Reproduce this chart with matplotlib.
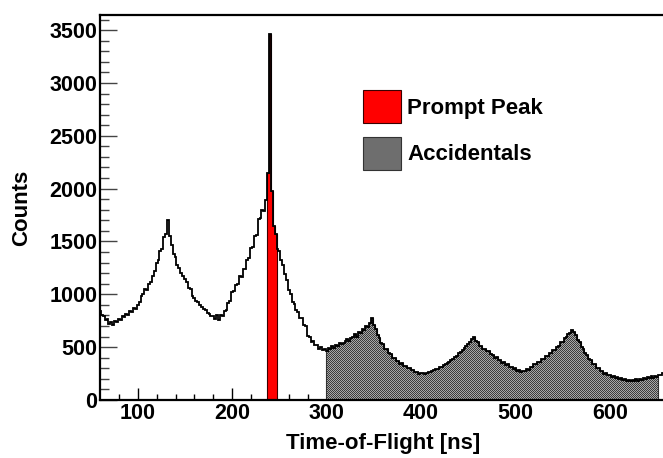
import numpy as np
import matplotlib
matplotlib.use("Agg")
import matplotlib.pyplot as plt
from matplotlib.patches import Patch
from matplotlib.transforms import IdentityTransform

# Time-of-flight spectrum, 2 ns bins (bin centres 60, 62, ..., 658 ns)
bin_width = 2.0
first_center = 60.0
counts = [
    845, 805, 798, 760, 762, 722, 738, 712, 748, 736,
    768, 758, 794, 782, 818, 806, 842, 828, 868, 858,
    898, 925, 988, 1002, 1052, 1040, 1098, 1112, 1175, 1218,
    1298, 1322, 1410, 1432, 1538, 1572, 1700, 1548, 1470, 1385,
    1352, 1278, 1252, 1205, 1178, 1142, 1115, 1062, 1048, 985,
    968, 936, 928, 898, 884, 862, 848, 822, 818, 798,
    792, 768, 808, 760, 802, 798, 846, 848, 916, 938,
    1022, 1028, 1092, 1096, 1172, 1160, 1242, 1240, 1322, 1340,
    1438, 1445, 1552, 1565, 1710, 1722, 1798, 1790, 1895, 2150,
    3466, 1980, 1650, 1575, 1432, 1412, 1325, 1282, 1188, 1140,
    1038, 1002, 928, 912, 848, 832, 778, 772, 712, 702,
    606, 598, 550, 554, 516, 521, 486, 500, 472, 478,
    464, 492, 482, 514, 492, 524, 510, 544, 530, 538,
    556, 574, 560, 590, 592, 620, 592, 640, 632, 670,
    662, 700, 692, 732, 772, 712, 668, 612, 588, 542,
    526, 486, 478, 440, 436, 402, 402, 372, 366, 342,
    346, 322, 326, 300, 306, 282, 286, 262, 268, 250,
    254, 252, 250, 256, 264, 266, 277, 282, 292, 296,
    308, 312, 332, 336, 352, 362, 376, 386, 406, 418,
    442, 452, 472, 488, 512, 528, 552, 578, 592, 562,
    546, 512, 512, 482, 486, 462, 462, 432, 426, 402,
    406, 376, 376, 352, 356, 332, 336, 312, 316, 292,
    300, 277, 286, 266, 276, 272, 291, 286, 316, 312,
    336, 336, 362, 362, 392, 392, 416, 416, 446, 446,
    476, 476, 506, 512, 546, 552, 588, 592, 622, 632,
    666, 642, 616, 572, 552, 502, 486, 442, 426, 386,
    376, 342, 336, 302, 300, 272, 270, 246, 251, 232,
    240, 220, 226, 207, 215, 197, 206, 187, 198, 182,
    193, 177, 188, 177, 195, 180, 200, 190, 206, 197,
    216, 204, 224, 212, 231, 222, 241, 232, 251, 242,
]

# Selection windows [ns]
prompt_window = (237, 247)
accidental_window = (299, 651)

x_range = (60, 660)
y_max = 3640

counts = np.asarray(counts, dtype=float)
edges = first_center - bin_width / 2 + bin_width * np.arange(len(counts) + 1)
centers = 0.5 * (edges[:-1] + edges[1:])

plt.rcParams["font.family"] = ["Liberation Sans", "DejaVu Sans"]
plt.rcParams["font.weight"] = "bold"

W, H = 663, 458
fig = plt.figure(figsize=(W / 100, H / 100), dpi=100)
left_px, right_px, top_px, bottom_px = 100, 666.6, 15.3, 400
ax = fig.add_axes([left_px / W, 1 - bottom_px / H,
                   (right_px - left_px) / W, (bottom_px - top_px) / H])
ax.set_xlim(*x_range)
ax.set_ylim(0, y_max)
ax.set_autoscale_on(False)


def window_slice(lo, hi):
    idx = np.where((centers > lo) & (centers < hi))[0]
    return counts[idx[0]:idx[-1] + 1], edges[idx[0]:idx[-1] + 2]


# Prompt peak region
v, e = window_slice(*prompt_window)
ax.stairs(v, e, fill=True, facecolor="#ff0000", edgecolor="none", zorder=2)
ax.stairs(v, e, baseline=0, color="#3a0000", lw=0.8, zorder=2.1)

# Accidental background region, filled with a fine checker pattern
v, e = window_slice(*accidental_window)
acc_patch = ax.stairs(v, e, fill=True, facecolor="#737373",
                      edgecolor="none", zorder=2)
yy, xx = np.mgrid[0:H, 0:W]
checker = np.where((xx + yy) % 2 == 0, 0.24, 0.66)
img = ax.imshow(checker, cmap="gray", vmin=0, vmax=1, interpolation="nearest",
                extent=(0, W, 0, H), transform=IdentityTransform(),
                aspect="auto", zorder=2.05)
img.set_clip_path(acc_patch)
ax.stairs(v, e, baseline=0, color="#333333", lw=0.8, zorder=2.1)

# Full spectrum outline
ax.stairs(counts, edges, baseline=None, color="black", lw=1.3, zorder=3)

ax.set_xlim(*x_range)
ax.set_ylim(0, y_max)

ax.set_xticks([100, 200, 300, 400, 500, 600])
ax.set_xticks(np.arange(80, 660, 20), minor=True)
ax.set_yticks(np.arange(0, 3501, 500))
ax.set_yticks(np.arange(0, 3601, 100), minor=True)

tick_fs = 15.5
ax.tick_params(axis="x", which="major", direction="in", length=9, width=1.0,
               pad=2, labelsize=tick_fs, color="black")
ax.tick_params(axis="x", which="minor", direction="in", length=4.5, width=1.0,
               color="black")
ax.tick_params(axis="y", which="major", direction="in", length=12.5, width=1.0,
               pad=2, labelsize=tick_fs, color="#444444")
ax.tick_params(axis="y", which="minor", direction="in", length=6.5, width=1.0,
               color="#444444")
for lab in ax.get_xticklabels() + ax.get_yticklabels():
    lab.set_fontweight("bold")

for s in ["left", "bottom", "top", "right"]:
    ax.spines[s].set_linewidth(1.6)
    ax.spines[s].set_color("black")
    ax.spines[s].set_zorder(4)

ax.set_xlabel("Time-of-Flight [ns]", fontsize=16, fontweight="bold", labelpad=7)
ax.set_ylabel("Counts", fontsize=16, fontweight="bold", labelpad=12)

handles = [
    Patch(facecolor="#ff0000", edgecolor="#3a0000", lw=0.8, label="Prompt Peak"),
    Patch(facecolor="#6e6e6e", edgecolor="#333333", lw=0.8, label="Accidentals"),
]
leg = fig.legend(handles=handles, loc="upper left",
                 bbox_to_anchor=(363 / W, 1 - 90 / H),
                 bbox_transform=fig.transFigure, frameon=False,
                 prop={"size": 16, "weight": "bold"},
                 handlelength=1.7, handleheight=1.91, handletextpad=0.3,
                 labelspacing=0.62, borderpad=0, borderaxespad=0)

fig.savefig("out.png", dpi=100)
